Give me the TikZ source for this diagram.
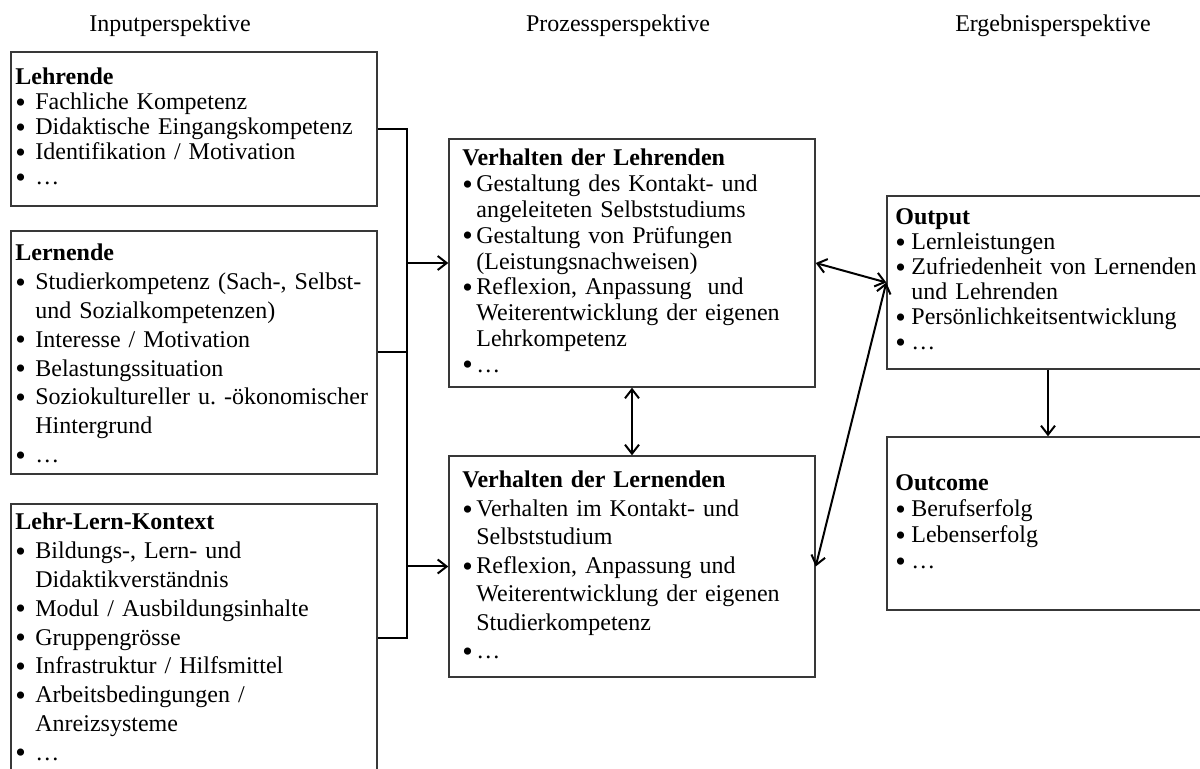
\documentclass[tikz,border=0pt]{standalone}
\usepackage{fontspec}
\usepackage{tikz}
\usetikzlibrary{arrows.meta}
\setmainfont{Liberation Serif}

\newcommand{\punkt}{\raisebox{-1.3pt}{\fontsize{15}{15}\selectfont\textbullet}}
\newcommand{\pkt}[2][10pt]{\par\hangindent=#1\hangafter=1\noindent\makebox[#1][l]{\punkt}#2}

\tikzset{
  kasten/.style={draw=black!78, line width=0.7pt, minimum width=183pt, inner sep=0pt},
  inhalt/.style={anchor=base west, inner sep=0pt, align=left, text width=#1},
  eng/.style={font={\fontsize{12}{12.5}\selectfont\lineskiplimit=-5pt\hyphenpenalty=10000}},
  weit/.style={font={\fontsize{12}{14.4}\selectfont\lineskiplimit=-5pt\hyphenpenalty=10000}},
  kopf/.style={anchor=base, inner sep=0pt, font=\fontsize{12}{14}\selectfont},
  linie/.style={line width=1pt},
  pfeil/.style={line width=1pt, -{Straight Barb[length=4.5pt,width=7pt]}},
  doppel/.style={line width=1pt, {Straight Barb[length=4.5pt,width=7pt]}-{Straight Barb[length=4.5pt,width=7pt]}}
}

\begin{document}
\frenchspacing
\begin{tikzpicture}[x=0.5pt,y=-0.5pt]
\useasboundingbox (0,0) rectangle (1200,769);
\clip (0,0) rectangle (1200,769);

\node[kopf] (input) at (170,32) {Inputperspektive};
\node[kopf] (prozess) at (618,32) {Prozessperspektive};
\node[kopf] (ergebnis) at (1053,32) {Ergebnisperspektive};

\node[kasten, minimum height=77pt] (lehrende) at (194,129) {};
\node[kasten, minimum height=121.5pt] (lernende) at (194,352.5) {};
\node[kasten, minimum height=134pt] (kontext) at (194,638) {};
\node[kasten, minimum height=124pt] (vlehr) at (632,263) {};
\node[kasten, minimum height=110.5pt] (vlern) at (632,566.5) {};
\node[kasten, minimum height=86.5pt] (output) at (1070,282.5) {};
\node[kasten, minimum height=86.5pt] (outcome) at (1070,523.5) {};

\node[inhalt=180pt, eng] (lehrende-txt) at (15,85) {\textbf{Lehrende}
  \pkt{Fachliche Kompetenz}
  \pkt{Didaktische Eingangskompetenz}
  \pkt{Identifikation / Motivation}
  \pkt{\dots}};
\node[inhalt=180pt, weit] (lernende-txt) at (15,261) {\textbf{Lernende}
  \pkt{Studierkompetenz (Sach-, Selbst-\newline und Sozialkompetenzen)}
  \pkt{Interesse / Motivation}
  \pkt{Belastungssituation}
  \pkt{Soziokultureller u.\ -ökonomischer\newline Hintergrund}
  \pkt{\dots}};
\node[inhalt=180pt, weit] (kontext-txt) at (15,530) {\textbf{Lehr-Lern-Kontext}
  \pkt{Bildungs-, Lern- und\newline Didaktikverständnis}
  \pkt{Modul / Ausbildungsinhalte}
  \pkt{Gruppengrösse}
  \pkt{Infrastruktur / Hilfsmittel}
  \pkt{Arbeitsbedingungen /\newline Anreizsysteme}
  \pkt{\dots}};
\node[inhalt=175pt, eng, font={\fontsize{12}{12.9}\selectfont\lineskiplimit=-5pt}] (vlehr-txt) at (462,166) {\textbf{Verhalten der Lehrenden}
  \pkt[7pt]{Gestaltung des Kontakt- und\newline angeleiteten Selbststudiums}
  \pkt[7pt]{Gestaltung von Prüfungen\newline (Leistungsnachweisen)}
  \pkt[7pt]{Reflexion, Anpassung\ \ und\newline Weiterentwicklung der eigenen\newline Lehrkompetenz}
  \pkt[7pt]{\dots}};
\node[inhalt=175pt, weit, font={\fontsize{12}{14.25}\selectfont\lineskiplimit=-5pt}] (vlern-txt) at (462,488) {\textbf{Verhalten der Lernenden}
  \pkt[7pt]{Verhalten im Kontakt- und\newline Selbststudium}
  \pkt[7pt]{Reflexion, Anpassung und\newline Weiterentwicklung der eigenen\newline Studierkompetenz}
  \pkt[7pt]{\dots}};
\node[inhalt=175pt, eng] (output-txt) at (895,225) {\textbf{Output}
  \pkt[8pt]{Lernleistungen}
  \pkt[8pt]{Zufriedenheit von Lernenden\newline und Lehrenden}
  \pkt[8pt]{Persönlichkeitsentwicklung}
  \pkt[8pt]{\dots}};
\node[inhalt=175pt, eng, font={\fontsize{12}{13}\selectfont\lineskiplimit=-5pt}] (outcome-txt) at (895,491) {\textbf{Outcome}
  \pkt[8pt]{Berufserfolg}
  \pkt[8pt]{Lebenserfolg}
  \pkt[8pt]{\dots}};

\coordinate (knick) at (407,0);
\draw[linie] (lehrende.east) -| (knick |- kontext.east) -- (kontext.east);
\draw[linie] (lernende.east) -- (knick |- lernende.east);
\draw[pfeil] (knick |- vlehr.west) -- (vlehr.west);
\draw[pfeil] (knick |- vlern.west) -- (vlern.west);
\draw[doppel] (vlehr.south) -- (vlern.north);
\draw[doppel] (vlehr.east) -- (output.west);
\draw[doppel] (vlern.east) -- (output.west);
\draw[pfeil] ([xshift=-11pt]output.south) -- ([xshift=-11pt]outcome.north);
\end{tikzpicture}
\end{document}
